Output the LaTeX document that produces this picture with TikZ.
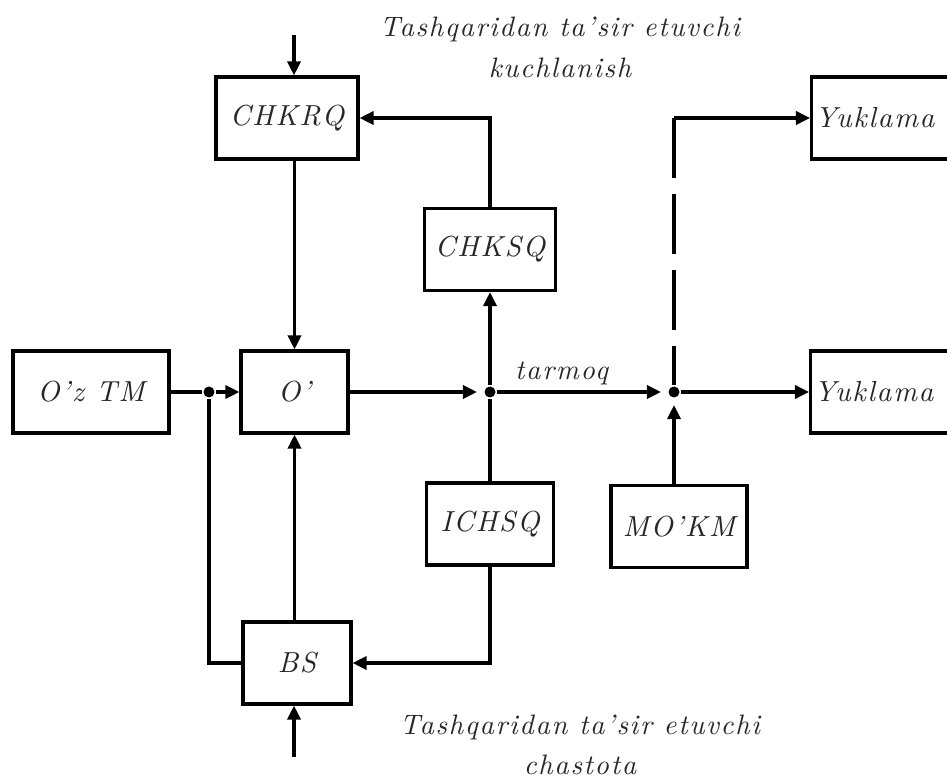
\documentclass[tikz,border=0pt]{standalone}
\usepackage{fontspec}
\newfontfamily\lblfont[LetterSpace=6]{lmroman10-italic.otf}
\usepackage{tikz}
\usetikzlibrary{arrows.meta,positioning}

\begin{document}
\begin{tikzpicture}[
    line width=1.8pt,
    >={Triangle[length=8pt,width=7.5pt]},
    block/.style={rectangle, draw, minimum width=#1, minimum height=1.64cm, inner sep=2pt, text=black!85, font=\lblfont\fontsize{16.5}{19}\selectfont},
    caption/.style={align=center, text=black!85, font=\lblfont\fontsize{16}{23}\selectfont},
    junction/.style={circle, fill, inner sep=0pt, minimum size=0.22cm}
]
    \useasboundingbox (0,0) rectangle (18.94,15.64);
    \clip (0,0) rectangle (18.94,15.64);

    % Blocks
    \node[block=3.12cm] (oztm) at (1.82,7.8) {O’z TM};
    \node[block=2.14cm] (o) at (5.89,7.8) {O’};
    \node[block=2.84cm] (chkrq) at (5.74,13.28) {CHKRQ};
    \node[block=2.62cm] (chksq) at (9.8,10.65) {CHKSQ};
    \node[block=2.54cm] (ichsq) at (9.8,5.16) {ICHSQ};
    \node[block=2.72cm] (mokm) at (13.58,5.11) {MO’KM};
    \node[block=2.16cm] (bs) at (5.94,2.38) {BS};
    \node[block=1cm, anchor=west, text width=2.9cm, align=left] (yuk1) at (16.2,13.28) {Yuklama};
    \node[block=1cm, anchor=west, text width=2.9cm, align=left] (yuk2) at (16.18,7.8) {Yuklama};

    % Junctions and outside inputs
    \node[junction] (j1) at (4.18,7.8) {};
    \node[junction] (j2) at (9.8,7.8) {};
    \node[junction] (j3) at (13.48,7.8) {};
    \coordinate (in1) at (5.88,14.94);
    \coordinate (in2) at (5.88,0.5);
    \coordinate (turn) at (j3 |- yuk1.west);

    % Texts
    \node[caption] (topnote) at (11.2,14.69) {Tashqaridan ta’sir etuvchi\\kuchlanish};
    \node[caption] (botnote) at (11.6,0.74) {Tashqaridan ta’sir etuvchi\\chastota};

    % Main line
    \draw (oztm) -- (j1);
    \draw[->] (j1) -- (o);
    \draw[->, shorten >=0.12cm] (o) -- (j2);
    \draw[->, shorten >=0.12cm] (j2) -- node[pos=0.38, above, caption] {tarmoq} (j3);
    \draw[->] (j3) -- (yuk2);

    % Regulators
    \draw[->] (in1) -- (chkrq.north -| in1);
    \draw[->] (chkrq.south -| o.north) -- (o.north);
    \draw[->] (j2) -- (chksq.south);
    \draw[->] (chksq.north) |- (chkrq.east);
    \draw (ichsq.north) -- (j2);
    \draw[->] (ichsq.south) |- (bs.east);
    \draw (bs.west) -| (j1);
    \draw[->] (bs.north -| o.south) -- (o.south);
    \draw[->] (in2) -- (bs.south -| in2);

    % Loads
    \draw[->, shorten >=0.12cm] (mokm.north -| j3) -- (j3);
    \draw[dash pattern=on 1.2cm off 0.32cm] (turn) -- (j3);
    \draw[->] (turn) -- (yuk1.west);
\end{tikzpicture}
\end{document}
